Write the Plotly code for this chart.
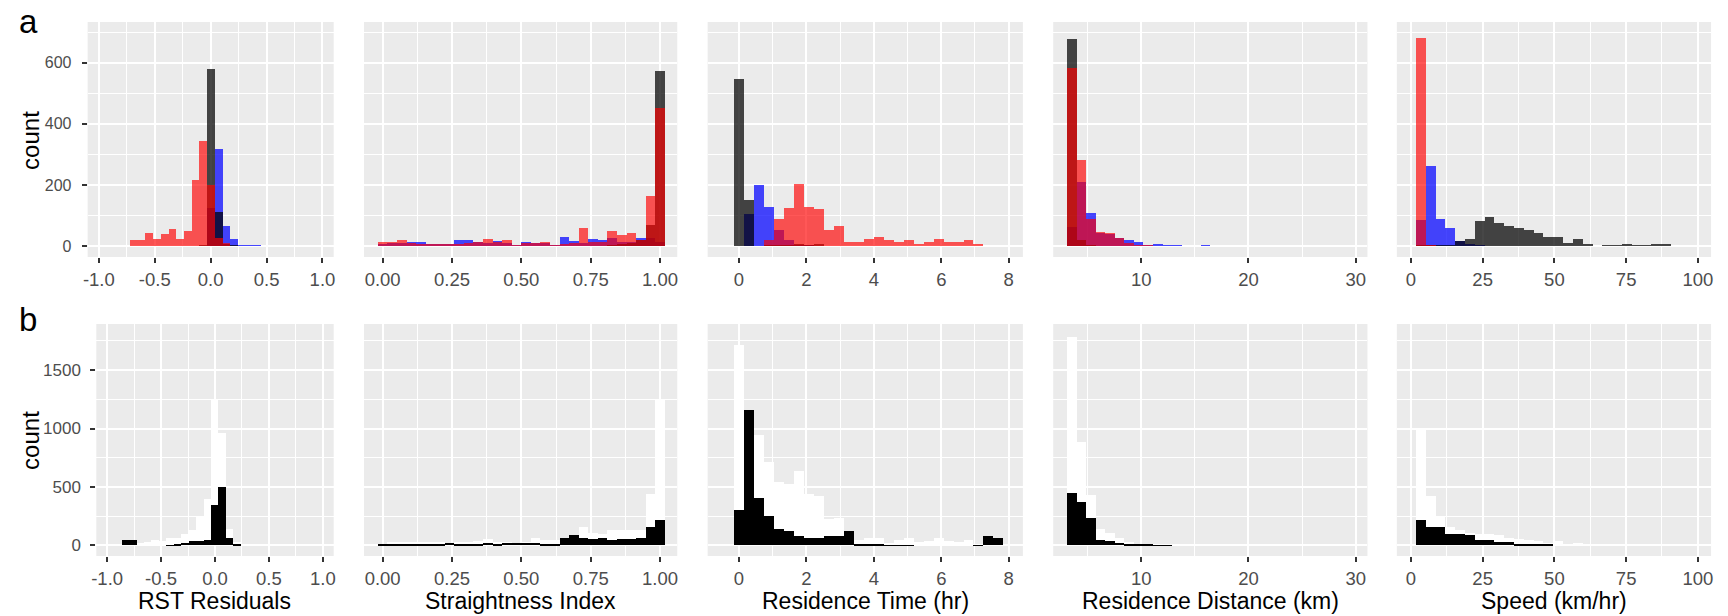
import plotly.graph_objects as go

W, H = 1728, 616
FONT = "Liberation Sans, Arial, Helvetica, sans-serif"

# ------------------------------------------------------------------ data
# bin grids (bin centre of first bin, bin width, number of bins)
rst_first, rst_width, rst_n = -14 * (2 / 29), 2 / 29, 29
si_first, si_width, si_n = 0.0, 1 / 29, 30
rt_first, rt_width, rt_n = 0.0, 0.2955, 27
rd_first, rd_width, rd_n = 3.555, 0.89, 30
sp_first, sp_width, sp_n = 0.0, 3.418, 30

# ---- row a : counts by group (blue, black, red)
a_rst_blue = [0, 0, 0, 0, 0, 0, 0, 0, 0, 0, 0, 0, 0, 0, 124, 319, 65, 25, 4, 4, 4, 1, 1, 1, 0, 0, 0, 0, 0]
a_rst_black = [0, 0, 0, 0, 0, 0, 0, 0, 0, 0, 0, 0, 0, 3, 580, 113, 8, 4, 0, 0, 0, 0, 0, 0, 0, 0, 0, 0, 0]
a_rst_red = [0, 0, 0, 0, 20, 20, 45, 25, 39, 56, 24, 50, 216, 343, 200, 27, 10, 0, 0, 0, 0, 0, 0, 0, 0, 0, 0, 0, 0]

a_si_blue = [8, 10, 10, 14, 14, 9, 7, 7, 20, 20, 13, 10, 17, 10, 5, 14, 10, 10, 5, 29, 17, 10, 23, 20, 28, 15, 15, 28, 28, 14]
a_si_black = [0, 0, 0, 0, 0, 0, 0, 0, 0, 0, 0, 0, 0, 0, 0, 0, 0, 0, 0, 0, 0, 0, 0, 0, 5, 8, 10, 20, 69, 572]
a_si_red = [13, 13, 20, 10, 8, 9, 7, 7, 8, 10, 13, 24, 15, 20, 5, 10, 11, 14, 5, 8, 12, 60, 15, 14, 50, 38, 45, 20, 163, 453]

a_rt_blue = [0, 107, 199, 127, 54, 20, 5, 3, 0, 0, 0, 0, 0, 0, 0, 0, 0, 0, 0, 0, 0, 0, 0, 0, 0, 0, 0]
a_rt_black = [546, 152, 0, 5, 5, 3, 8, 5, 9, 0, 0, 0, 0, 0, 0, 0, 0, 0, 0, 0, 0, 0, 0, 0, 0, 0, 0]
a_rt_red = [0, 0, 0, 20, 90, 126, 205, 127, 122, 54, 65, 13, 13, 24, 29, 20, 13, 20, 9, 13, 24, 13, 13, 20, 9, 0, 0]

a_rd_blue = [62, 211, 108, 42, 40, 26, 21, 14, 3, 9, 3, 4, 2, 2, 4, 0, 2, 0, 0, 0, 0, 0, 0, 0, 0, 0, 0, 0, 0, 1]
a_rd_black = [678, 22, 3, 0, 0, 0, 0, 0, 0, 0, 0, 0, 0, 0, 0, 0, 0, 0, 0, 0, 0, 0, 0, 0, 0, 0, 0, 0, 0, 0]
a_rd_red = [582, 282, 89, 48, 42, 27, 11, 5, 3, 0, 0, 0, 0, 0, 0, 0, 0, 0, 0, 0, 0, 0, 0, 0, 0, 0, 0, 0, 0, 0]

a_sp_blue = [0, 85, 263, 90, 60, 17, 8, 3, 2, 0, 0, 0, 0, 0, 0, 0, 0, 0, 0, 0, 0, 0, 0, 0, 0, 0, 0, 0, 0, 0]
a_sp_black = [0, 5, 3, 3, 5, 17, 25, 82, 96, 76, 65, 60, 52, 45, 30, 30, 12, 24, 8, 0, 3, 3, 9, 3, 3, 9, 9, 1, 0, 0]
a_sp_red = [0, 681, 5, 0, 0, 0, 0, 0, 0, 0, 0, 0, 0, 0, 0, 0, 0, 0, 0, 0, 0, 0, 0, 0, 0, 0, 0, 0, 0, 0]

# ---- row b : all observations (white) and subset (black)
b_rst_all = [0, 0, 43, 51, 20, 29, 49, 37, 66, 63, 100, 129, 243, 394, 1249, 966, 143, 29, 14, 6, 3, 0, 0, 0, 0, 0, 0, 0, 0]
b_rst_sub = [0, 0, 43, 51, 0, 0, 0, 0, 3, 9, 20, 37, 37, 49, 343, 500, 66, 9, 0, 0, 0, 0, 0, 0, 0, 0, 0, 0, 0]

b_si_all = [6, 29, 33, 33, 29, 29, 29, 23, 29, 29, 37, 57, 29, 29, 20, 29, 66, 49, 49, 66, 86, 157, 106, 100, 129, 129, 129, 129, 437, 1251]
b_si_sub = [6, 6, 6, 6, 6, 6, 6, 23, 6, 6, 6, 23, 6, 23, 20, 20, 20, 14, 14, 66, 86, 66, 57, 66, 43, 57, 57, 66, 157, 214]

b_rt_all = [1714, 1157, 943, 717, 543, 529, 634, 437, 423, 223, 237, 120, 43, 66, 66, 20, 43, 66, 29, 37, 66, 37, 29, 51, 14, 77, 66]
b_rt_sub = [306, 1157, 406, 249, 143, 120, 77, 66, 66, 77, 77, 120, 6, 6, 6, 3, 3, 3, 0, 0, 0, 0, 0, 0, 3, 77, 66]

b_rd_all = [1786, 886, 434, 140, 111, 66, 29, 14, 6, 6, 6, 6, 6, 3, 0, 3, 3, 0, 0, 0, 0, 0, 0, 0, 0, 0, 0, 0, 0, 0]
b_rd_sub = [449, 371, 237, 49, 37, 20, 14, 9, 6, 3, 3, 0, 0, 0, 0, 0, 0, 0, 0, 0, 0, 0, 0, 0, 0, 0, 0, 0, 0, 0]

b_sp_all = [0, 986, 420, 243, 157, 129, 109, 100, 97, 86, 66, 57, 49, 37, 20, 37, 6, 20, 6, 4, 4, 4, 4, 4, 4, 4, 4, 0, 0, 0]
b_sp_sub = [0, 214, 157, 157, 100, 100, 86, 49, 49, 26, 26, 6, 6, 6, 6, 0, 0, 0, 0, 0, 0, 0, 0, 0, 0, 0, 0, 0, 0, 0]

# ---- axis text
x_titles = ["RST Residuals", "Straightness Index", "Residence Time (hr)",
            "Residence Distance (km)", "Speed (km/hr)"]
x_tickvals = [[-1, -0.5, 0, 0.5, 1], [0, 0.25, 0.5, 0.75, 1], [0, 2, 4, 6, 8],
              [10, 20, 30], [0, 25, 50, 75, 100]]
x_ticktext = [["-1.0", "-0.5", "0.0", "0.5", "1.0"],
              ["0.00", "0.25", "0.50", "0.75", "1.00"],
              ["0", "2", "4", "6", "8"], ["10", "20", "30"],
              ["0", "25", "50", "75", "100"]]
x_minor = [[-0.75, -0.25, 0.25, 0.75], [0.125, 0.375, 0.625, 0.875],
           [1, 3, 5, 7], [5, 15, 25], [12.5, 37.5, 62.5, 87.5]]
ya_ticks = [0, 200, 400, 600]
ya_minor = [100, 300, 500, 700]
yb_ticks = [0, 500, 1000, 1500]
yb_minor = [250, 750, 1250, 1750]

# ------------------------------------------------------------------ layout geometry (reference px)
x_ranges = [[-1.1, 1.1], [-0.067, 1.062], [-0.93, 8.42], [1.8, 31.1], [-4.9, 104.6]]
dom_a = [(83, 330), (360.5, 675), (705.5, 1022), (1052.5, 1368), (1397.5, 1713)]
dom_b = [(91.7, 330), (360.5, 675), (705.5, 1022), (1052.5, 1368), (1397.5, 1713)]
row_a_px = (22, 257)
row_b_px = (324, 556)
ya_range = [-35, 733]
yb_range = [-90, 1894]

BG = "#EBEBEB"
TICKC = "#4D4D4D"

def px_x(p):
    return p / W

def px_y(p):
    return 1 - p / H

def centers(first, width, n):
    return [first + i * width for i in range(n)]

grids = [(rst_first, rst_width, rst_n), (si_first, si_width, si_n), (rt_first, rt_width, rt_n),
         (rd_first, rd_width, rd_n), (sp_first, sp_width, sp_n)]
row_a = [(a_rst_blue, a_rst_black, a_rst_red), (a_si_blue, a_si_black, a_si_red),
         (a_rt_blue, a_rt_black, a_rt_red), (a_rd_blue, a_rd_black, a_rd_red),
         (a_sp_blue, a_sp_black, a_sp_red)]
row_b = [(b_rst_all, b_rst_sub), (b_si_all, b_si_sub), (b_rt_all, b_rt_sub),
         (b_rd_all, b_rd_sub), (b_sp_all, b_sp_sub)]

fig = go.Figure()

def axname(n, kind):
    return kind if n == 1 else f"{kind}{n}"

def add_bar(xs, ys, w, color, n):
    fig.add_trace(go.Bar(
        x=xs, y=ys, width=w,
        marker=dict(color=color, line=dict(width=0)),
        xaxis=axname(n, "x"), yaxis=axname(n, "y"),
        showlegend=False, hoverinfo="skip"))

layout = {}
for c in range(5):
    first, width, nb = grids[c]
    xs = centers(first, width, nb)
    for row in (0, 1):
        n = c + 1 + 5 * row
        if row == 0:
            blue, black, red = row_a[c]
            add_bar(xs, blue, width, "rgba(0,0,255,0.72)", n)
            add_bar(xs, black, width, "rgba(0,0,0,0.72)", n)
            add_bar(xs, red, width, "rgba(255,0,0,0.66)", n)
            d = dom_a[c]
            top, bot = row_a_px
            yr, yt, ym, yfs, ysd = ya_range, ya_ticks, ya_minor, 16, 7
        else:
            allv, sub = row_b[c]
            add_bar(xs, allv, width, "#FFFFFF", n)
            add_bar(xs, sub, width, "#000000", n)
            d = dom_b[c]
            top, bot = row_b_px
            yr, yt, ym, yfs, ysd = yb_range, yb_ticks, yb_minor, 17, 6
        layout[axname(n, "xaxis")] = dict(
            domain=[px_x(d[0]), px_x(d[1])], range=x_ranges[c], anchor=axname(n, "y"),
            tickmode="array", tickvals=x_tickvals[c], ticktext=x_ticktext[c],
            ticks="outside", ticklen=5, tickwidth=2, tickcolor="#333333",
            ticklabelstandoff=1,
            tickfont=dict(family=FONT, size=18.5, color=TICKC),
            showgrid=True, gridcolor="white", gridwidth=2,
            minor=dict(tickmode="array", tickvals=x_minor[c], showgrid=True,
                       gridcolor="white", gridwidth=1, ticks=""),
            zeroline=False, showline=False, fixedrange=True)
        yax = dict(
            domain=[px_y(bot), px_y(top)], range=yr, anchor=axname(n, "x"),
            tickmode="array", tickvals=yt,
            showgrid=True, gridcolor="white", gridwidth=2,
            minor=dict(tickmode="array", tickvals=ym, showgrid=True,
                       gridcolor="white", gridwidth=1, ticks=""),
            zeroline=False, showline=False, fixedrange=True)
        if c == 0:
            yax.update(ticks="outside", ticklen=5, tickwidth=2, tickcolor="#333333",
                       showticklabels=True, ticklabelstandoff=ysd,
                       tickfont=dict(family=FONT, size=yfs, color=TICKC))
        else:
            yax.update(ticks="", showticklabels=False)
        layout[axname(n, "yaxis")] = yax

annotations = []
# y-axis titles
for cy in (140, 440):
    annotations.append(dict(text="count", x=px_x(25), y=px_y(cy), xref="paper", yref="paper",
                            showarrow=False, textangle=-90, xanchor="center", yanchor="middle",
                            font=dict(family=FONT, size=24, color="black")))
# x-axis titles (row b)
for c in range(5):
    d = dom_b[c]
    annotations.append(dict(text=x_titles[c], x=px_x((d[0] + d[1]) / 2), y=px_y(601),
                            xref="paper", yref="paper", showarrow=False,
                            xanchor="center", yanchor="middle",
                            font=dict(family=FONT, size=23, color="black")))
# panel letters
for lab, cx, cy in (("a", 24, 22), ("b", 23, 319)):
    annotations.append(dict(text=lab, x=px_x(cx), y=px_y(cy), xref="paper", yref="paper",
                            showarrow=False, xanchor="center", yanchor="middle",
                            font=dict(family=FONT, size=33, color="black")))

fig.update_layout(
    width=W, height=H, margin=dict(l=0, r=0, t=0, b=0),
    paper_bgcolor="white", plot_bgcolor=BG, barmode="overlay", bargap=0,
    annotations=annotations, showlegend=False, **layout)

# remove the default page margin so the figure sits at the window origin
fig.write_html("out.html", config={"displayModeBar": False},
               post_script="document.body.style.margin='0px';")
